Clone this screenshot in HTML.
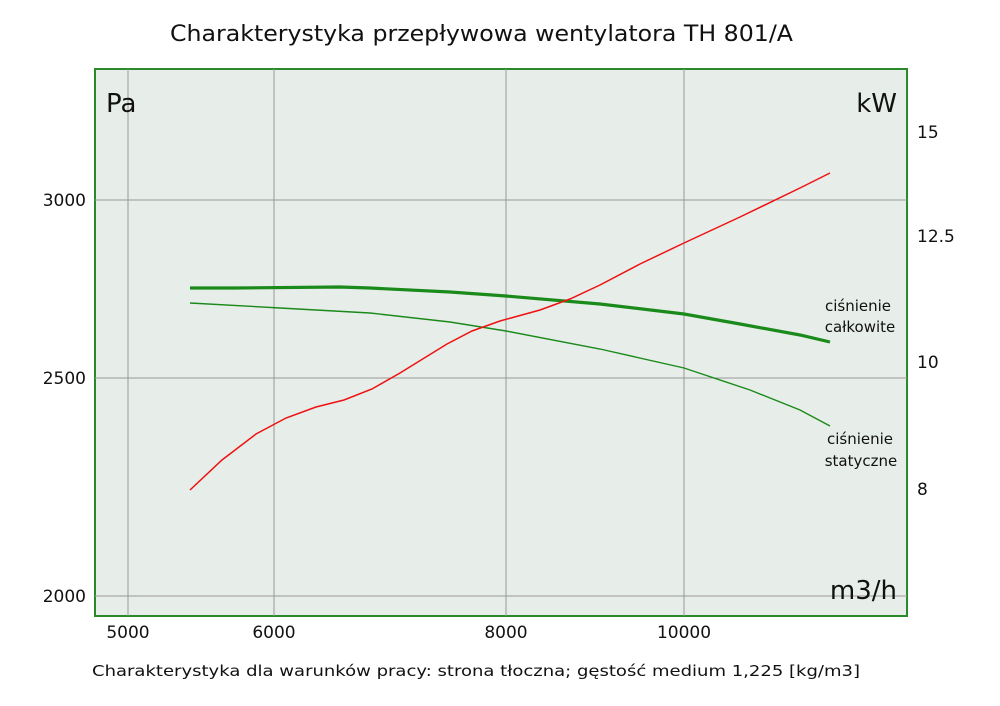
<!DOCTYPE html>
<html><head><meta charset="utf-8"><style>body{margin:0;background:#fff}svg{display:block}text{font-family:"DejaVu Sans","Liberation Sans",sans-serif}</style></head><body>
<svg width="1000" height="706" viewBox="0 0 1000 706">
<rect x="0" y="0" width="1000" height="706" fill="#fff"/>
<rect x="95" y="69" width="812" height="547" fill="#e7ede9" stroke="#2a8a2a" stroke-width="2"/>
<g stroke="#999" stroke-width="1">
<line x1="128" y1="69" x2="128" y2="616"/><line x1="274" y1="69" x2="274" y2="616"/><line x1="506" y1="69" x2="506" y2="616"/><line x1="684" y1="69" x2="684" y2="616"/>
<line x1="95" y1="200" x2="907" y2="200"/><line x1="95" y1="378" x2="907" y2="378"/><line x1="95" y1="596" x2="907" y2="596"/>
</g>
<text x="170" y="41" font-size="22" fill="#111" textLength="623" lengthAdjust="spacingAndGlyphs">Charakterystyka przepływowa wentylatora TH 801/A</text>
<text x="106" y="112" font-size="26" fill="#111">Pa</text>
<text x="897" y="112" font-size="26" fill="#111" text-anchor="end">kW</text>
<text x="897" y="599" font-size="26" fill="#111" text-anchor="end">m3/h</text>
<g font-size="17" fill="#111" text-anchor="end">
<text x="86" y="206">3000</text><text x="86" y="384">2500</text><text x="86" y="602">2000</text></g>
<g font-size="17" fill="#111">
<text x="917" y="138">15</text><text x="917" y="242">12.5</text><text x="917" y="368">10</text><text x="917" y="495">8</text></g>
<g font-size="17" fill="#111" text-anchor="middle">
<text x="128" y="638">5000</text><text x="274" y="638">6000</text><text x="506" y="638">8000</text><text x="684" y="638">10000</text></g>
<g font-size="15" fill="#111" text-anchor="middle">
<text x="858" y="311">ciśnienie</text><text x="860" y="332">całkowite</text>
<text x="860" y="444">ciśnienie</text><text x="861" y="466">statyczne</text></g>
<text x="92" y="676" font-size="15" fill="#111" textLength="768" lengthAdjust="spacingAndGlyphs">Charakterystyka dla warunków pracy: strona tłoczna; gęstość medium 1,225 [kg/m3]</text>
<polyline fill="none" stroke="#1a8a1a" stroke-width="3.2" points="190,288 235,288 340,287 370,288 450,292 506,296 600,304 684,314 740,324 800,335 830,342"/>
<polyline fill="none" stroke="#1a8a1a" stroke-width="1.4" points="190,303 280,308 370,313 450,322 506,331 600,349 684,368 750,390 800,410 830,426"/>
<polyline fill="none" stroke="#ee1111" stroke-width="1.5" points="190,490 222,460 256,434 286,418 316,407 344,400 372,389 400,373 447,344 472,331 500,321 540,310 570,299 600,285 640,264 684,243 740,217 800,188 830,173"/>
</svg>
</body></html>
